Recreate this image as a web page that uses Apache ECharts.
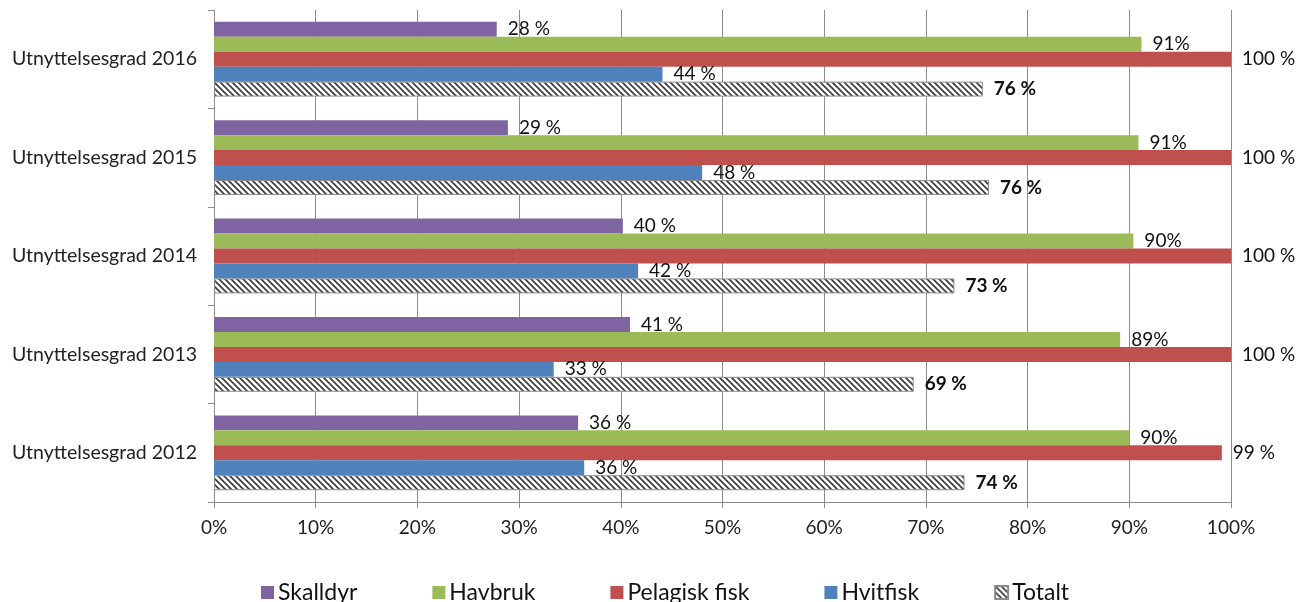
<!DOCTYPE html>
<html>
<head>
<meta charset="utf-8">
<script src="https://cdn.jsdelivr.net/npm/echarts@6/dist/echarts.min.js"></script>
<style>
  html, body { margin: 0; padding: 0; background: #fff; }
  #chart { width: 1298px; height: 602px; }
</style>
</head>
<body>
<div id="chart"></div>
<script>
// categories, top to bottom
const years = ['Utnyttelsesgrad 2016', 'Utnyttelsesgrad 2015', 'Utnyttelsesgrad 2014', 'Utnyttelsesgrad 2013', 'Utnyttelsesgrad 2012']

// values (labels show them rounded)
const skalldyr = [27.8, 28.9, 40.2, 40.9, 35.8]
const havbruk = [91.2, 90.9, 90.4, 89.1, 90.0]
const pelagisk = [100, 100, 100, 100, 99.1]
const hvitfisk = [44.1, 48.0, 41.7, 33.4, 36.4]
const totalt = [75.6, 76.2, 72.8, 68.8, 73.8]

const xTicks = [0, 10, 20, 30, 40, 50, 60, 70, 80, 90, 100]

// diagonal hatch for "Totalt"
function hatch() {
  const c = document.createElement('canvas')
  c.width = 6
  c.height = 6
  const ctx = c.getContext('2d')
  ctx.fillStyle = '#fff'
  ctx.fillRect(0, 0, 6, 6)
  ctx.strokeStyle = '#3a3a3a'
  ctx.lineWidth = 1.6
  ctx.beginPath()
  ctx.moveTo(-1, -1); ctx.lineTo(7, 7)
  ctx.moveTo(-4, 2); ctx.lineTo(4, 10)
  ctx.moveTo(2, -4); ctx.lineTo(10, 4)
  ctx.stroke()
  return { image: c, repeat: 'repeat' }
}

const font = 'Lato'
const labelBase = { show: true, position: 'right', distance: 11, color: '#111', fontFamily: font, fontSize: 19 }

function bar(name, data, color, sep, extra) {
  return Object.assign({
    name: name,
    type: 'bar',
    data: data,
    barGap: '0%',
    barCategoryGap: '24%',
    itemStyle: { color: color },
    label: Object.assign({}, labelBase, { formatter: p => Math.round(p.value) + sep + '%' }),
    animation: false
  }, extra || {})
}

const chart = echarts.init(document.getElementById('chart'))
chart.setOption({
  textStyle: { fontFamily: font },
  grid: { left: 214, right: 67, top: 10, bottom: 100 },
  legend: {
    data: ['Skalldyr', 'Havbruk', 'Pelagisk fisk', 'Hvitfisk', 'Totalt'],
    left: 256,
    top: 576,
    itemGap: 75,
    itemWidth: 13,
    itemHeight: 13,
    icon: 'rect',
    textStyle: { fontSize: 23, color: '#111', fontFamily: font, padding: [0, 0, 0, -1] }
  },
  xAxis: {
    type: 'value',
    min: 0,
    max: 100,
    interval: 10,
    axisLine: { show: true, lineStyle: { color: '#8c8c8c' } },
    axisTick: { show: true, length: 6, lineStyle: { color: '#8c8c8c' } },
    splitLine: { show: true, lineStyle: { color: '#8c8c8c', width: 1 } },
    axisLabel: {
      margin: 16, fontSize: 19, color: '#222', fontFamily: font,
      formatter: v => (xTicks.indexOf(v) >= 0 ? v + '%' : '')
    }
  },
  yAxis: {
    type: 'category',
    data: years,
    inverse: true,
    axisLine: { show: true, lineStyle: { color: '#8c8c8c' } },
    axisTick: { show: true, length: 6, lineStyle: { color: '#8c8c8c' } },
    axisLabel: { margin: 17, fontSize: 19.5, color: '#222', fontFamily: font }
  },
  series: [
    bar('Skalldyr', skalldyr, '#8064A2', ' '),
    bar('Havbruk', havbruk, '#9BBB59', ''),
    bar('Pelagisk fisk', pelagisk, '#C0504D', ' '),
    bar('Hvitfisk', hvitfisk, '#4F81BD', ' '),
    bar('Totalt', totalt, hatch(), ' ', {
      itemStyle: { color: hatch(), borderColor: '#8c8c8c', borderWidth: 1 },
      label: Object.assign({}, labelBase, {
        formatter: p => Math.round(p.value) + ' %',
        fontWeight: 'bold'
      })
    })
  ]
})
</script>
</body>
</html>
